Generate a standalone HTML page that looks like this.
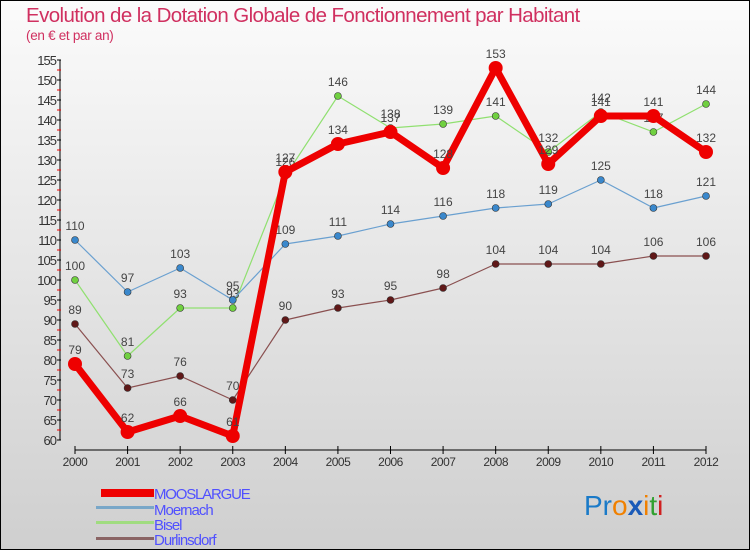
<!DOCTYPE html>
<html><head><meta charset="utf-8"><style>
body{margin:0;}
svg{display:block;font-family:"Liberation Sans",sans-serif;}
</style></head><body>
<svg id="c" width="750" height="550" xmlns="http://www.w3.org/2000/svg">
<defs><linearGradient id="bg" x1="0" y1="0" x2="0" y2="1"><stop offset="0" stop-color="#fbfbfb"/><stop offset="1" stop-color="#cfcfcf"/></linearGradient></defs>
<rect x="0.5" y="0.5" width="749" height="549" fill="url(#bg)" stroke="#000"/>
<text x="26" y="22" font-size="20.5" letter-spacing="-0.6" fill="#d03060">Evolution de la Dotation Globale de Fonctionnement par Habitant</text>
<text x="26" y="40" font-size="13.5" letter-spacing="-0.3" fill="#d03060">(en € et par an)</text>
<g id="axes"></g>
<g id="series"></g>
<g id="legend">
<rect x="101" y="489" width="53" height="8" fill="#e00"/>
<text x="154" y="499" font-size="15" letter-spacing="-1.2" fill="#5050ff">MOOSLARGUE</text>
<rect x="96" y="506" width="58" height="3" fill="#79a7c8"/>
<text x="154" y="515" font-size="15" letter-spacing="-1" fill="#5050ff">Moernach</text>
<rect x="96" y="521" width="58" height="3" fill="#a0dc80"/>
<text x="154" y="530" font-size="15" letter-spacing="-1" fill="#5050ff">Bisel</text>
<rect x="96" y="537" width="58" height="3" fill="#8a6464"/>
<text x="154" y="545" font-size="15" letter-spacing="-1" fill="#5050ff">Durlinsdorf</text>
</g>
<text x="584" y="515" font-size="28"><tspan fill="#1a7ac8">Pr</tspan><tspan fill="#f08000">o</tspan><tspan fill="#1a5ab8" font-weight="bold">x</tspan><tspan fill="#f08000">i</tspan><tspan fill="#30a030">t</tspan><tspan fill="#d02020">i</tspan></text>
</svg>
<script>
const years=['2000','2001','2002','2003','2004','2005','2006','2007','2008','2009','2010','2011','2012'];
const yTicks=[60,65,70,75,80,85,90,95,100,105,110,115,120,125,130,135,140,145,150,155];
const mooslargue=[79,62,66,61,127,134,137,128,153,129,141,141,132];
const moernach=[110,97,103,95,109,111,114,116,118,119,125,118,121];
const bisel=[100,81,93,93,126,146,138,139,141,132,142,137,144];
const durlinsdorf=[89,73,76,70,90,93,95,98,104,104,104,106,106];
const NS='http://www.w3.org/2000/svg';
const X=i=>75+i*(706-75)/12;
const Y=v=>440-(v-60)*4;
function mk(tag,attrs,parent,text){const e=document.createElementNS(NS,tag);for(const k in attrs)e.setAttribute(k,attrs[k]);if(text!==undefined)e.textContent=text;parent.appendChild(e);return e;}
const ax=document.getElementById('axes');
let e=mk('line',{x1:60,y1:Y(155),x2:60,y2:Y(60),stroke:'#000'},ax);


for(const t of yTicks){
 mk('line',{x1:57,y1:Y(t),x2:61,y2:Y(t),stroke:'#000'},ax);
 if(t<155)mk('line',{x1:57,y1:Y(t+2.5),x2:61,y2:Y(t+2.5),stroke:'#e00'},ax);
 e=mk('text',{x:56,y:Y(t)+5,'font-size':13,fill:'#333','text-anchor':'end','letter-spacing':'-1'},ax,t);
 
 
}
e=mk('line',{x1:X(0),y1:450,x2:X(12),y2:450,stroke:'#000'},ax);


years.forEach((y,i)=>{
 mk('line',{x1:X(i),y1:446,x2:X(i),y2:454,stroke:'#000'},ax);
 e=mk('text',{x:X(i),y:466,'font-size':12,fill:'#333','text-anchor':'middle','letter-spacing':'-0.5'},ax,y);
 
 
});
const sg=document.getElementById('series');
function draw(name,data,color,dot,w,r){
 const g=mk('g',{},sg);
 
 
 const p=mk('polyline',{points:data.map((v,i)=>X(i)+','+Y(v)).join(' '),fill:'none',stroke:color,'stroke-width':w,'stroke-linejoin':'round'},g);
 
 
 data.forEach((v,i)=>{
  const c=mk('circle',{cx:X(i),cy:Y(v),r:r,fill:dot,stroke:'#333','stroke-width':w>3?0:0.6},g);
  
  
  const t=mk('text',{x:X(i),y:Y(v)-10,'font-size':12,fill:'#444','text-anchor':'middle'},g,v);
  
  
 });
}
draw('durlinsdorf',durlinsdorf,'#8a5050','#601818',1.2,3.5);
draw('bisel',bisel,'#90e070','#70d040',1.2,3.5);
draw('moernach',moernach,'#6aa0d0','#3a88cc',1.2,3.5);
draw('mooslargue',mooslargue,'#ee0000','#ee0000',7,7);
</script>
</body></html>
